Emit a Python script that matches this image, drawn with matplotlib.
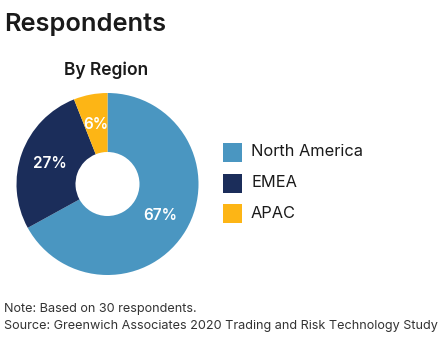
import matplotlib
matplotlib.use("Agg")
import matplotlib.pyplot as plt
from matplotlib.patches import Rectangle

plt.rcParams['font.family'] = ['Inter', 'DejaVu Sans']

regions = ["North America", "EMEA", "APAC"]
shares = [67, 27, 6]
colors = ["#4A96C1", "#1B2D5A", "#FDB515"]

W, H = 444, 344
fig = plt.figure(figsize=(W/100, H/100), dpi=100)

cx, cy, r = 107.5, 184, 91
ax = fig.add_axes([(cx - r)/W, (H - cy - r)/H, 2*r/W, 2*r/H])
wedges, texts, autotexts = ax.pie(
    shares, colors=colors, startangle=90, counterclock=False,
    radius=1, wedgeprops=dict(width=1 - 32/91, linewidth=0),
    autopct=lambda p: f"{p:.0f}%", pctdistance=0.67,
    textprops=dict(color="white", fontsize=11, fontweight="semibold"))
ax.set_xlim(-1, 1)
ax.set_ylim(-1, 1)
ax.set_aspect('equal')
ax.axis('off')

fig.text(4/W, 1 - 25/H, "Respondents", fontsize=18.3, fontweight="semibold",
         color="#1a1a1a", ha="left", va="center")
fig.text(106/W, 1 - 70/H, "By Region", fontsize=12.5, fontweight="semibold",
         color="#1a1a1a", ha="center", va="center")

leg_y = [152, 183, 213]
for name, col, y in zip(regions, colors, leg_y):
    fig.patches.append(Rectangle((223/W, 1 - (y + 9.5)/H), 19/W, 19/H,
                                 transform=fig.transFigure, facecolor=col,
                                 edgecolor="none"))
    fig.text(251/W, 1 - y/H, name, fontsize=11.8, color="#1a1a1a",
             ha="left", va="center")

fig.text(4/W, 1 - 309/H, "Note: Based on 30 respondents.", fontsize=9.1,
         color="#333333", ha="left", va="center")
fig.text(4/W, 1 - 326/H,
         "Source: Greenwich Associates 2020 Trading and Risk Technology Study",
         fontsize=9.1, color="#333333", ha="left", va="center")

fig.savefig("out.png", dpi=100, facecolor="white")
